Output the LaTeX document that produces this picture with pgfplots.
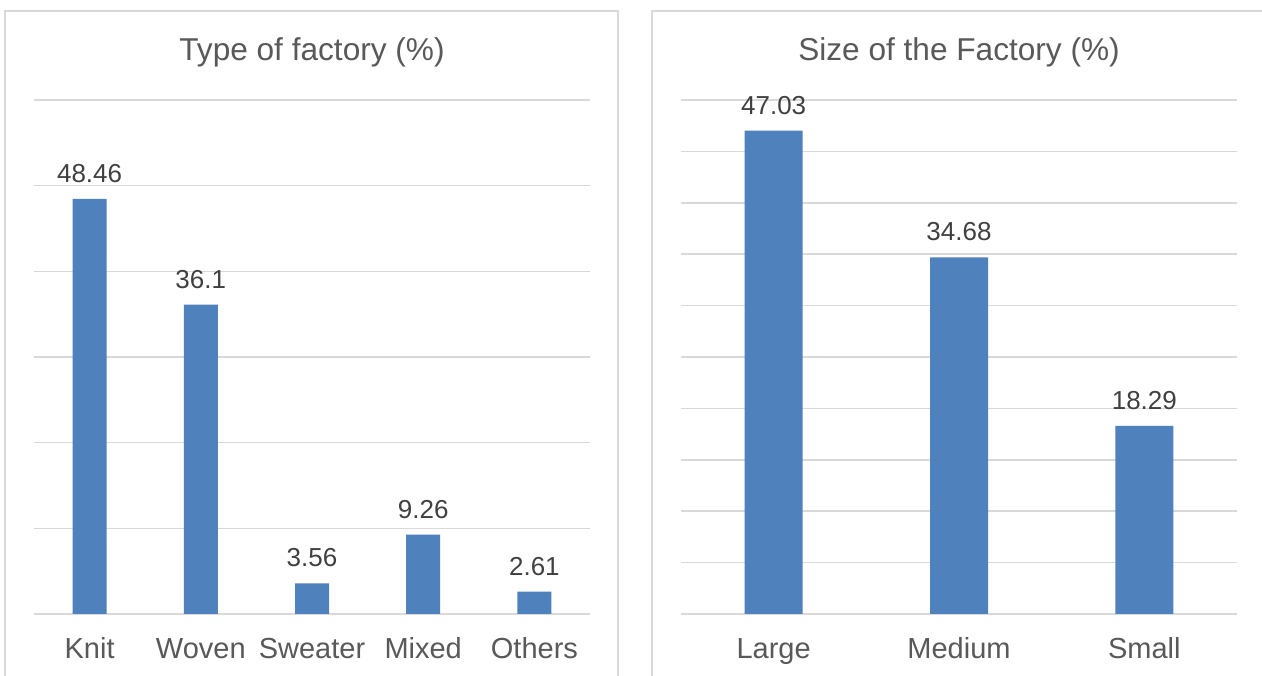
\documentclass[border=0pt]{standalone}
\usepackage{fontspec}
\setmainfont{Liberation Sans}
\usepackage{pgfplots}
\pgfplotsset{compat=1.18}

\definecolor{barblue}{HTML}{4F81BD}
\definecolor{gridgray}{HTML}{D9D9D9}
\definecolor{labelgray}{HTML}{595959}
\definecolor{valuegray}{HTML}{404040}

\pgfplotsset{
  panel/.style={
    scale only axis, width=556pt, height=514pt,
    ymin=0, clip=false,
    axis line style={draw=none},
    major tick length=0pt,
    tick style={draw=none},
    yticklabel=\empty,
    ymajorgrids, grid style={gridgray, line width=1.5pt},
    xtick=data,
    xticklabel style={font=\fontsize{29}{34}\selectfont, text=labelgray,
      anchor=base, yshift=-45pt},
    title style={font=\fontsize{31.6}{38}\selectfont, text=labelgray,
      at={(0.5,1)}, anchor=base, yshift=33pt},
    ybar, bar shift=0pt,
    nodes near coords,
    nodes near coords style={font=\fontsize{26}{31}\selectfont, text=valuegray,
      anchor=base, yshift=16.5pt},
    /pgf/number format/assume math mode=true,
    /pgf/number format/fixed,
    /pgf/number format/precision=2,
  }
}

\begin{document}
\begin{tikzpicture}
  \useasboundingbox (0pt,0pt) rectangle (1262pt,676pt);
  \clip (0pt,0pt) rectangle (1262pt,676pt);
  \fill[white] (0pt,0pt) rectangle (1262pt,676pt);

  % panel frames
  \draw[gridgray, line width=1.5pt] (5pt,-20pt) rectangle (618pt,665pt);
  \draw[gridgray, line width=1.5pt] (652pt,-20pt) rectangle (1290pt,665pt);

  % type of factory
  \begin{axis}[panel, at={(34pt,62pt)}, anchor=south west,
      title={Type of factory (\%)},
      ymax=60, ytick={0,10,...,60},
      xmin=-0.5, xmax=4.5,
      xticklabels={Knit, Woven, Sweater, Mixed, Others},
      bar width=34pt]
    \addplot[fill=barblue, draw=none] coordinates {
      (0,48.46) (1,36.1) (2,3.56) (3,9.26) (4,2.61)};
  \end{axis}

  % size of the factory
  \begin{axis}[panel, at={(681pt,62pt)}, anchor=south west,
      title={Size of the Factory (\%)},
      ymax=50, ytick={0,5,...,50},
      xmin=-0.5, xmax=2.5,
      xticklabels={Large, Medium, Small},
      bar width=58pt]
    \addplot[fill=barblue, draw=none] coordinates {
      (0,47.03) (1,34.68) (2,18.29)};
  \end{axis}
\end{tikzpicture}
\end{document}
